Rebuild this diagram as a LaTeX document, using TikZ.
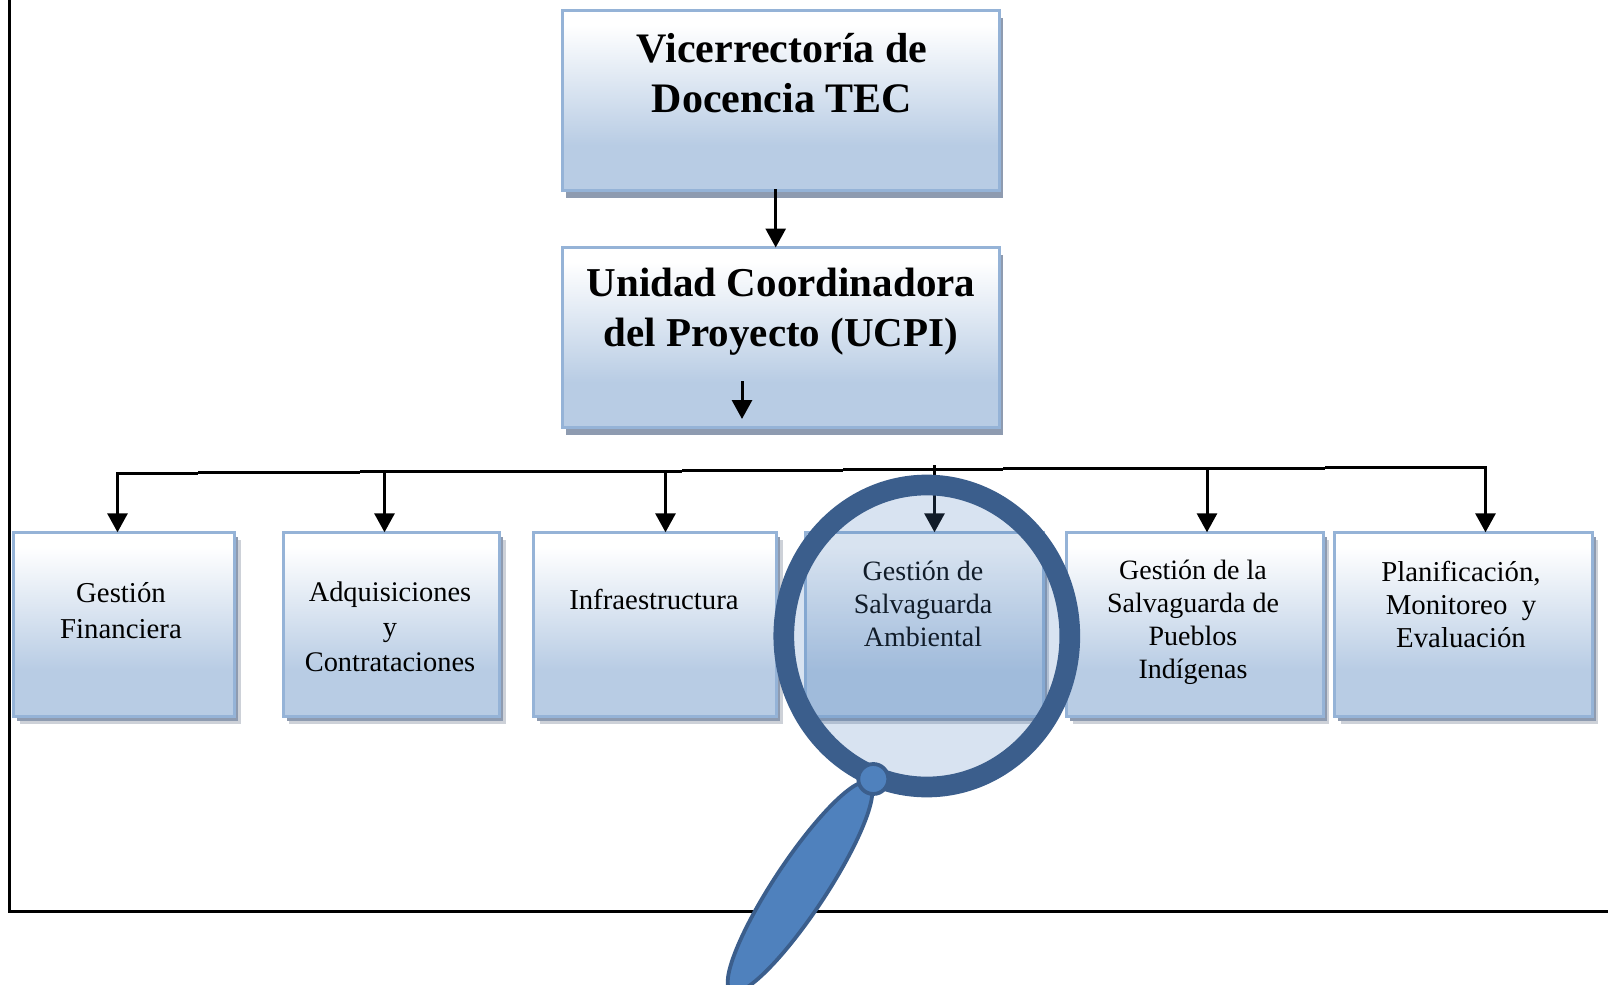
\documentclass[tikz,border=0pt]{standalone}
\usepackage{fontspec}
\setmainfont{Liberation Serif}
\usetikzlibrary{arrows.meta,shadows}
\definecolor{boxb}{HTML}{B8CCE4}
\definecolor{boxline}{HTML}{95B3D7}
\definecolor{shdark}{HTML}{8E9BB0}
\definecolor{shlight}{HTML}{CDD1D8}
\definecolor{ringc}{HTML}{3B5E8C}
\definecolor{glassc}{HTML}{4F81BD}
\pgfdeclareverticalshading{boxgrad}{100bp}{color(0bp)=(boxb); color(37.5bp)=(boxb); color(71bp)=(white); color(100bp)=(white)}
\tikzset{
  basebox/.style={rectangle,draw=boxline,line width=1.5pt,shading=boxgrad,inner sep=0pt,outer sep=0pt,minimum width=#1},
  topbox/.style={basebox=218.5pt,minimum height=90pt,
    general shadow={fill=shdark,shadow xshift=1.5pt,shadow yshift=-3.75pt}},
  lowbox/.style={basebox=#1,minimum height=91.85pt,
    general shadow={fill=shlight,shadow xshift=3pt,shadow yshift=-3.75pt},
    general shadow={fill=shdark,shadow xshift=1.75pt,shadow yshift=-2.25pt}},
  bigtxt/.style={align=center,inner sep=0pt,font=\fontsize{#1}{25}\selectfont\bfseries},
  smalltxt/.style 2 args={align=center,inner sep=0pt,font=\fontsize{#1}{#2}\selectfont},
  busline/.style={line width=1.5pt,black},
  conn/.style={line width=1.5pt,black,-{Triangle[length=9.5pt,width=10pt]}},
}
\begin{document}
\begin{tikzpicture}[x=0.5pt,y=-0.5pt]
\useasboundingbox (0,0) rectangle (1608,985);
% frame
\coordinate (f0) at (9.5,0);
\coordinate (f1) at (9.5,911);
\coordinate (f2) at (1608,911);
\draw[line width=1.5pt,black] (f0) -- (f1) -- (f2);
% bus (slightly stepped, as in the picture)
\foreach \a/\b/\y in {116/198/473.25,198/360/472.5,360/521/471.75,521/682/471,682/843/470.25,843/1003/469.5,1003/1164/468.75,1164/1325/468,1325/1486.5/467.25}
  \draw[busline] (\a,\y) -- (\b,\y);
% boxes
\node[topbox] (gt) at (781,100.5) {};
\node[topbox] (gu) at (781,337.5) {};
\node[lowbox=110.35pt] (g1) at (124.15,624.15) {};
\node[lowbox=108.25pt] (g2) at (391.25,624.15) {};
\node[lowbox=121.4pt] (g3) at (655.1,624.15) {};
\node[lowbox=118.6pt] (g4) at (924.4,624.15) {};
\node[lowbox=128.15pt] (g5) at (1194.85,624.15) {};
\node[lowbox=128.65pt] (g6) at (1463.35,624.15) {};
% texts
\node[bigtxt=21] (tt) at (782,73) {Vicerrectoría de\\Docencia TEC};
\node[bigtxt=20.5] (tu) at (781,312) {Unidad Coordinadora\\del Proyecto (UCPI)};
\node[smalltxt={14.4}{18pt}] (t1) at (121,611) {Gestión\\Financiera};
\node[smalltxt={14.2}{17.5pt}] (t2) at (390,627) {Adquisiciones\\y\\Contrataciones};
\node[smalltxt={14.4}{17pt}] (t3) at (654,599) {Infraestructura};
\node[smalltxt={14}{16.5pt}] (t4) at (923,604) {Gestión de\\Salvaguarda\\Ambiental};
\node[smalltxt={14}{16.5pt}] (t5) at (1193,622) {Gestión de la\\Salvaguarda de\\Pueblos\\Indígenas};
\node[smalltxt={14.4}{16.5pt}] (t6) at (1461,604) {Planificación,\\Monitoreo\ \ y\\Evaluación};
% connectors
\coordinate (c0) at (775.7,189);
\draw[conn] (c0) -- (c0 |- gu.north);
\coordinate (a0) at (742,381);
\coordinate (a1) at (742,419);
\draw[conn] (a0) -- (a1);
\coordinate (d1) at (117.5,472);
\coordinate (d2) at (384.5,471);
\coordinate (d3) at (665.5,470);
\coordinate (d4) at (934.5,465);
\coordinate (d5) at (1207,467);
\coordinate (d6) at (1485.5,466.5);
\draw[conn] (d1) -- (d1 |- g1.north);
\draw[conn] (d2) -- (d2 |- g2.north);
\draw[conn] (d3) -- (d3 |- g3.north);
\draw[conn] (d4) -- (d4 |- g4.north);
\draw[conn] (d5) -- (d5 |- g5.north);
\draw[conn] (d6) -- (d6 |- g6.north);
% magnifying glass
\coordinate (lens) at (926.8,636);
\coordinate (hand) at (800,887);
\coordinate (knob) at (873.3,779);
\fill[glassc,fill opacity=0.22] (lens) ellipse [x radius=71.5pt,y radius=75.5pt];
\draw[ringc,line width=10.35pt] (lens) ellipse [x radius=71.5pt,y radius=75.5pt];
\draw[ringc,fill=glassc,line width=1.9pt,rotate around={56.5:(hand)}] (hand) ellipse [x radius=62.5pt,y radius=13pt];
\draw[ringc,fill=glassc,line width=1.9pt] (knob) circle [radius=7.5pt];
\end{tikzpicture}
\end{document}
